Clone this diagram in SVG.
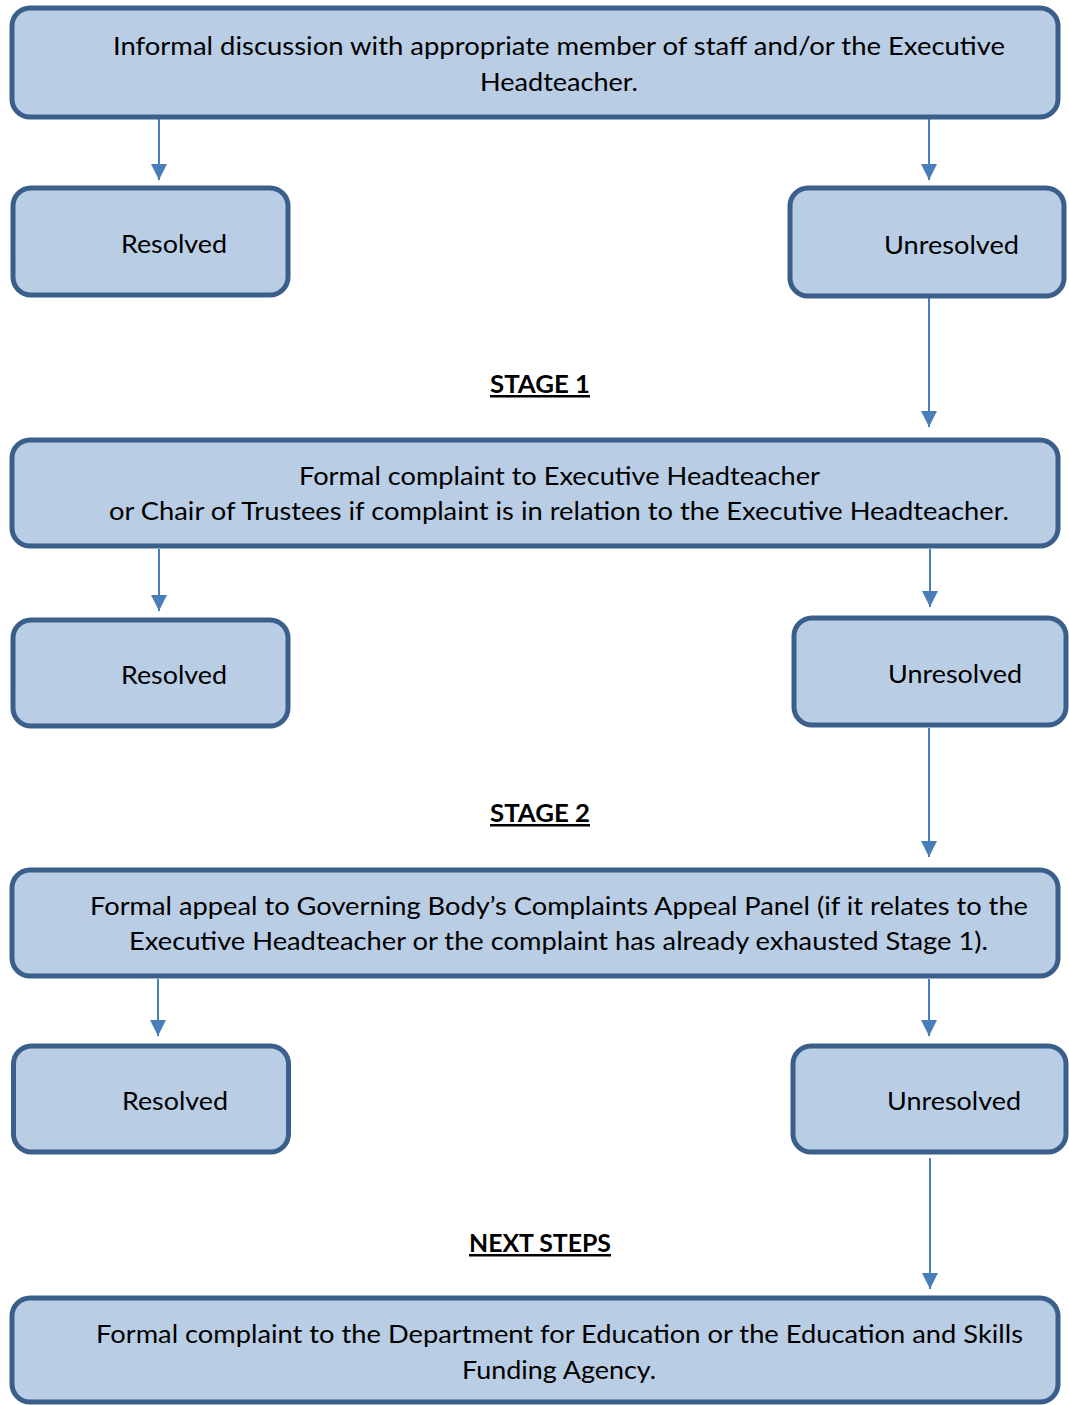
<svg xmlns="http://www.w3.org/2000/svg" width="1069" height="1405" viewBox="0 0 1069 1405">
<style>
.box{fill:#B9CDE5;stroke:#3A5F8B;stroke-width:5}
.t{font-family:Lato,"Liberation Sans",sans-serif;font-size:25px;fill:#000;text-anchor:middle}
.h{font-family:Lato,"Liberation Sans",sans-serif;font-size:25px;font-weight:bold;fill:#000;text-anchor:middle;text-decoration:underline}
.c{stroke:#4A7EBB;stroke-width:2;fill:none;marker-end:url(#ah)}
</style>
<defs>
<marker id="ah" viewBox="0 0 10 10" refX="10" refY="5" markerWidth="16" markerHeight="16" markerUnits="userSpaceOnUse" orient="auto">
<path d="M0,0 L10,5 L0,10 z" fill="#4A7EBB"/>
</marker>
</defs>
<rect width="1069" height="1405" fill="#fff"/>
<g id="connectors">
<line class="c" x1="159" y1="119" x2="159" y2="180"/>
<line class="c" x1="929" y1="119" x2="929" y2="180"/>
<line class="c" x1="929" y1="298" x2="929" y2="427"/>
<line class="c" x1="159" y1="549" x2="159" y2="611"/>
<line class="c" x1="930" y1="549" x2="930" y2="607"/>
<line class="c" x1="929" y1="728" x2="929" y2="857"/>
<line class="c" x1="158" y1="979" x2="158" y2="1036"/>
<line class="c" x1="929" y1="979" x2="929" y2="1036"/>
<line class="c" x1="930" y1="1158" x2="930" y2="1289"/>
</g>
<g id="informal">
<rect class="box" x="12" y="8" width="1046" height="109" rx="18"/>
<text class="t" x="559" y="55" textLength="892" lengthAdjust="spacingAndGlyphs">Informal discussion with appropriate member of staff and/or the Executive</text>
<text class="t" x="559" y="91" textLength="158" lengthAdjust="spacingAndGlyphs">Headteacher.</text>
</g>
<g id="resolved1">
<rect class="box" x="13" y="188" width="275" height="107" rx="18"/>
<text class="t" x="174" y="253" textLength="106" lengthAdjust="spacingAndGlyphs">Resolved</text>
</g>
<g id="unresolved1">
<rect class="box" x="790" y="188" width="274" height="108" rx="18"/>
<text class="t" x="951.5" y="254" textLength="135" lengthAdjust="spacingAndGlyphs">Unresolved</text>
</g>
<g id="stage1">
<text class="h" x="540" y="393" textLength="100" lengthAdjust="spacingAndGlyphs">STAGE 1</text>
</g>
<g id="formal-complaint">
<rect class="box" x="12" y="440" width="1046" height="106" rx="18"/>
<text class="t" x="559.5" y="485" textLength="521" lengthAdjust="spacingAndGlyphs">Formal complaint to Executive Headteacher</text>
<text class="t" x="559" y="520" textLength="900" lengthAdjust="spacingAndGlyphs">or Chair of Trustees if complaint is in relation to the Executive Headteacher.</text>
</g>
<g id="resolved2">
<rect class="box" x="13" y="620" width="275" height="106" rx="18"/>
<text class="t" x="174" y="684" textLength="106" lengthAdjust="spacingAndGlyphs">Resolved</text>
</g>
<g id="unresolved2">
<rect class="box" x="794" y="618" width="272" height="107" rx="18"/>
<text class="t" x="955" y="683" textLength="134" lengthAdjust="spacingAndGlyphs">Unresolved</text>
</g>
<g id="stage2">
<text class="h" x="540" y="822" textLength="100" lengthAdjust="spacingAndGlyphs">STAGE 2</text>
</g>
<g id="formal-appeal">
<rect class="box" x="12" y="870" width="1046" height="106" rx="18"/>
<text class="t" x="559" y="915" textLength="938" lengthAdjust="spacingAndGlyphs">Formal appeal to Governing Body’s Complaints Appeal Panel (if it relates to the</text>
<text class="t" x="558.5" y="950" textLength="859" lengthAdjust="spacingAndGlyphs">Executive Headteacher or the complaint has already exhausted Stage 1).</text>
</g>
<g id="resolved3">
<rect class="box" x="13.5" y="1046" width="275" height="106" rx="18"/>
<text class="t" x="175" y="1110" textLength="106" lengthAdjust="spacingAndGlyphs">Resolved</text>
</g>
<g id="unresolved3">
<rect class="box" x="793" y="1046" width="273" height="106" rx="18"/>
<text class="t" x="954" y="1110" textLength="134" lengthAdjust="spacingAndGlyphs">Unresolved</text>
</g>
<g id="next-steps">
<text class="h" x="540" y="1252" textLength="142" lengthAdjust="spacingAndGlyphs">NEXT STEPS</text>
</g>
<g id="dfe">
<rect class="box" x="12" y="1298" width="1046" height="104" rx="18"/>
<text class="t" x="559.5" y="1343" textLength="927" lengthAdjust="spacingAndGlyphs">Formal complaint to the Department for Education or the Education and Skills</text>
<text class="t" x="559" y="1379" textLength="194" lengthAdjust="spacingAndGlyphs">Funding Agency.</text>
</g>
</svg>
